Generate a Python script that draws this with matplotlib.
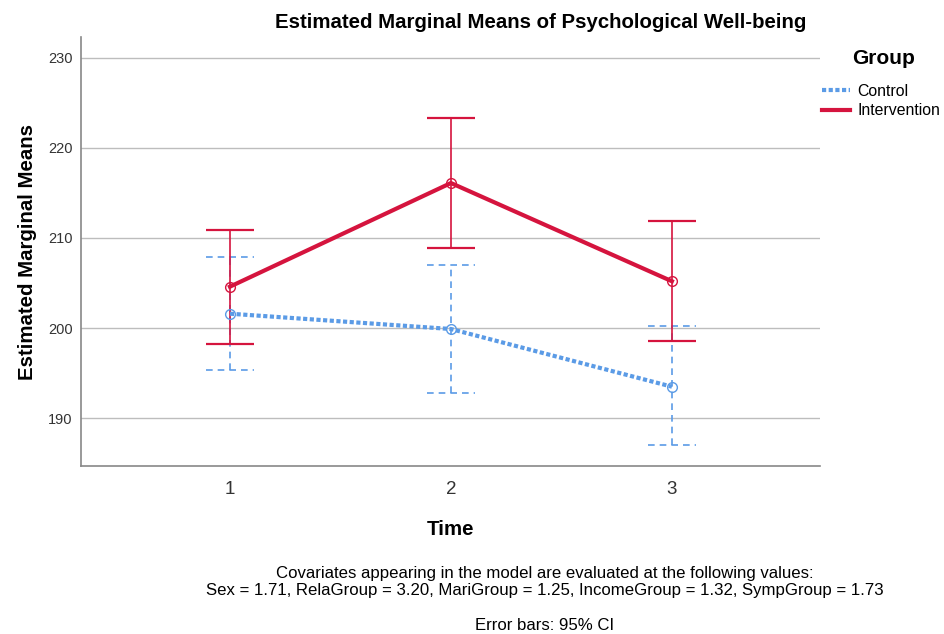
import numpy as np
import matplotlib
matplotlib.use('Agg')
import matplotlib.pyplot as plt
from matplotlib.lines import Line2D

plt.rcParams['font.family'] = ['Liberation Sans', 'DejaVu Sans']

time = [1, 2, 3]
control_mean = [201.6, 199.9, 193.5]
control_low = [195.3, 192.8, 187.0]
control_high = [207.9, 207.0, 200.2]
interv_mean = [204.6, 216.1, 205.2]
interv_low = [198.2, 208.9, 198.6]
interv_high = [210.9, 223.3, 211.9]
yticks = [190, 200, 210, 220, 230]

c_ctrl = '#5b9be6'
c_int = '#d5143e'

fig = plt.figure(figsize=(9.44, 6.34), dpi=100)
ax = fig.add_axes([0.0858, 0.265, 0.7828, 0.6766])

for y in yticks:
    ax.axhline(y, color='#bdbdbd', lw=1, zorder=0)

cap = 0.11
t = np.array(time)
# control error bars (dashed)
ax.vlines(time, control_low, control_high, colors=c_ctrl, lw=1.2, linestyles=(0, (4, 3)))
ax.hlines(control_low, t - cap, t + cap, colors=c_ctrl, lw=1.2, linestyles=(0, (4, 3)))
ax.hlines(control_high, t - cap, t + cap, colors=c_ctrl, lw=1.2, linestyles=(0, (4, 3)))
# intervention error bars
ax.vlines(time, interv_low, interv_high, colors=c_int, lw=1.2)
ax.hlines(interv_low, t - cap, t + cap, colors=c_int, lw=1.6)
ax.hlines(interv_high, t - cap, t + cap, colors=c_int, lw=1.6)

ax.plot(time, control_mean, color=c_ctrl, lw=3, linestyle=(0, (1, 0.6)),
        marker='o', mfc='none', ms=7, mew=1)
ax.plot(time, interv_mean, color=c_int, lw=3,
        marker='o', mfc='none', ms=7, mew=1)

ax.set_xlim(0.326, 3.67)
ax.set_ylim(184.7, 232.3)
ax.set_xticks(time)
ax.set_xticklabels(['1', '2', '3'], fontsize=13.5)
ax.set_yticks(yticks)
ax.tick_params(axis='y', labelsize=10.5, length=0, pad=6, labelcolor='#333333')
ax.tick_params(axis='x', length=0, pad=11, labelcolor='#333333')
for s in ['top', 'right']:
    ax.spines[s].set_visible(False)
ax.spines['left'].set_color('#888888')
ax.spines['bottom'].set_color('#888888')
ax.spines['left'].set_linewidth(1.2)
ax.spines['bottom'].set_linewidth(1.2)

ax.set_xlabel('Time', fontsize=14.8, fontweight='bold', labelpad=16)
ax.set_ylabel('Estimated Marginal Means', fontsize=14.7, fontweight='bold', labelpad=8)
fig.text(0.573, 0.965, 'Estimated Marginal Means of Psychological Well-being',
         ha='center', va='center', fontsize=14.7, fontweight='bold')

handles = [Line2D([], [], color=c_ctrl, lw=3, linestyle=(0, (1, 0.6))),
           Line2D([], [], color=c_int, lw=3)]
leg = fig.legend(handles, ['Control', 'Intervention'], title='Group',
                 loc='upper left', bbox_to_anchor=(0.864, 0.932), frameon=False,
                 fontsize=11.4, handlelength=1.75, handletextpad=0.5,
                 labelspacing=0.3, borderaxespad=0)
leg.get_title().set_fontweight('bold')
leg.get_title().set_fontsize(15)
leg._legend_box.align = 'left'
leg._legend_box.sep = 11
leg.get_title().set_x(30)

fig.text(0.577, 0.096, 'Covariates appearing in the model are evaluated at the following values:',
         ha='center', va='center', fontsize=12.1)
fig.text(0.577, 0.069, 'Sex = 1.71, RelaGroup = 3.20, MariGroup = 1.25, IncomeGroup = 1.32, SympGroup = 1.73',
         ha='center', va='center', fontsize=12.1)
fig.text(0.577, 0.014, 'Error bars: 95% CI', ha='center', va='center', fontsize=12.1)

fig.savefig('out.png', dpi=100)
